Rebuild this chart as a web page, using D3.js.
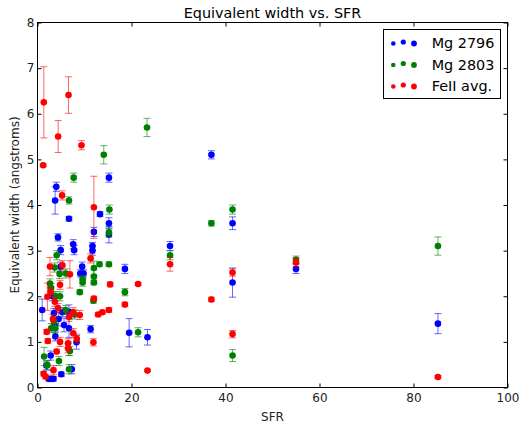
<!DOCTYPE html>
<html>
<head>
<meta charset="utf-8">
<script src="https://cdn.jsdelivr.net/npm/d3@7"></script>
<style>
  body { margin: 0; background: #fff; }
  svg { display: block; font-family: "DejaVu Sans", sans-serif; }
</style>
</head>
<body>
<svg id="chart" width="521" height="429"></svg>
<script>
// [SFR, equivalent width, error]
const mg2796 = [
  [85.2, 1.4, 0.22], [55.0, 2.6, 0.1], [41.5, 2.3, 0.32], [41.5, 3.6, 0.14],
  [37.0, 5.1, 0.09], [28.2, 3.1, 0.1], [23.4, 1.1, 0.17], [19.5, 1.2, 0.31],
  [18.6, 2.6, 0.1], [15.2, 4.6, 0.1], [15.2, 3.6, 0.12], [15.2, 3.35, 0.18],
  [13.3, 3.8, 0.05], [12.0, 3.41, 0.1], [11.7, 3.1, 0.08], [11.7, 3.0, 0.1],
  [11.3, 1.28, 0.08], [9.5, 2.65, 0.1], [9.1, 2.5, 0.08], [9.8, 2.5, 0.08],
  [8.3, 0.99, 0.15], [7.8, 3.01, 0.1], [7.6, 3.14, 0.1], [7.3, 0.4, 0.1],
  [6.7, 3.7, 0.05], [4.93, 3.01, 0.1], [4.36, 3.29, 0.08], [4.0, 4.4, 0.1],
  [3.75, 4.1, 0.3], [1.0, 1.7, 0.24], [3.15, 2.0, 0.1], [4.93, 2.65, 0.1],
  [5.3, 1.65, 0.1], [6.7, 1.66, 0.15], [3.5, 1.63, 0.1], [5.64, 1.37, 0.15],
  [3.65, 1.37, 0.1], [6.7, 1.3, 0.2], [4.5, 1.5, 0.15], [3.8, 1.12, 0.1],
  [2.8, 0.7, 0.1], [1.9, 0.48, 0.1], [2.4, 0.19, 0.05], [2.9, 0.19, 0.05],
  [3.4, 0.19, 0.05], [5.07, 0.29, 0.05]
];

const mg2803 = [
  [85.2, 3.1, 0.2], [55.0, 2.8, 0.08], [41.5, 3.9, 0.1], [41.5, 0.7, 0.13],
  [37.0, 3.6, 0.06], [28.2, 2.9, 0.1], [23.3, 5.7, 0.2], [21.4, 1.21, 0.1],
  [18.6, 2.09, 0.08], [15.3, 3.9, 0.1], [15.2, 3.4, 0.1], [15.2, 2.7, 0.05],
  [14.1, 5.1, 0.2], [13.2, 2.7, 0.05], [11.9, 1.9, 0.05], [12.0, 2.3, 0.05],
  [12.0, 2.62, 0.15], [12.0, 2.43, 0.15], [9.6, 2.37, 0.08], [9.6, 2.3, 0.08],
  [9.0, 2.09, 0.05], [7.7, 4.6, 0.1], [6.7, 4.1, 0.08], [4.08, 2.9, 0.1],
  [3.65, 2.63, 0.1], [2.66, 2.28, 0.1], [2.9, 2.18, 0.1], [3.9, 2.0, 0.1],
  [4.8, 2.0, 0.1], [6.06, 2.5, 0.1], [4.7, 2.49, 0.1], [3.8, 1.3, 0.1],
  [6.0, 1.7, 0.1], [7.9, 1.6, 0.1], [2.9, 1.3, 0.1], [6.6, 0.85, 0.15],
  [6.9, 0.8, 0.1], [6.7, 0.4, 0.1], [4.57, 0.58, 0.1], [1.4, 0.68, 0.2],
  [2.1, 0.49, 0.1], [3.5, 1.45, 0.1]
];

const feIIAvg = [
  [85.2, 0.23, 0.03], [55.0, 2.74, 0.1], [41.5, 2.52, 0.08], [41.5, 1.17, 0.08],
  [37.0, 1.93, 0.05], [28.2, 2.7, 0.15], [23.4, 0.37, 0.02], [21.4, 2.27, 0.03],
  [18.6, 1.82, 0.05], [15.45, 2.26, 0.05], [15.2, 1.7, 0.05], [13.8, 1.65, 0.04],
  [12.9, 1.6, 0.04], [12.0, 1.95, 0.05], [11.9, 0.99, 0.08], [12.0, 3.95, 0.68],
  [11.3, 2.83, 0.1], [9.36, 5.31, 0.1], [9.0, 1.59, 0.1], [8.36, 1.07, 0.1],
  [7.6, 1.19, 0.1], [6.6, 6.41, 0.4], [5.24, 4.21, 0.1], [4.4, 5.5, 0.35],
  [1.34, 6.25, 0.78], [1.2, 4.87, 0.03], [6.9, 2.48, 0.3], [2.66, 2.65, 0.2],
  [5.3, 2.68, 0.1], [2.8, 2.1, 0.1], [4.8, 2.25, 0.1], [2.1, 1.99, 0.3],
  [3.7, 1.88, 0.1], [4.36, 1.74, 0.1], [1.96, 1.22, 0.05], [3.3, 1.5, 0.1],
  [4.8, 1.0, 0.1], [2.2, 1.02, 0.05], [6.5, 0.97, 0.1], [6.5, 0.86, 0.1],
  [4.08, 0.79, 0.05], [1.3, 0.3, 0.05], [3.4, 0.38, 0.1], [1.7, 0.24, 0.05],
  [7.6, 1.65, 0.1], [6.7, 1.55, 0.1]
];

const seriesNames = ['Mg 2796', 'Mg 2803', 'FeII avg.'];
const xTicks = [0, 20, 40, 60, 80, 100];
const yTicks = [0, 1, 2, 3, 4, 5, 6, 7, 8];

(function() {
  const colors = ['#0000ff', '#008000', '#ff0000'];
  const series = [mg2796, mg2803, feIIAvg];

  const svg = d3.select('#chart');
  const plotLeft = 37.5, plotRight = 507.5, plotTop = 22.5, plotBottom = 387.5;

  const x = d3.scaleLinear().domain([0, 100]).range([plotLeft, plotRight]);
  const y = d3.scaleLinear().domain([0, 8]).range([plotBottom, plotTop]);

  // axes, ticks pointing inward on all four sides
  svg.append('g').attr('transform', `translate(0,${plotBottom})`)
    .call(d3.axisBottom(x).tickValues(xTicks).tickSize(-4).tickPadding(6).tickFormat(d3.format('d')));
  svg.append('g').attr('transform', `translate(0,${plotTop})`)
    .call(d3.axisTop(x).tickValues(xTicks).tickSize(-4).tickFormat(''));
  svg.append('g').attr('transform', `translate(${plotLeft},0)`)
    .call(d3.axisLeft(y).tickValues(yTicks).tickSize(-4).tickPadding(3).tickFormat(d3.format('d')));
  svg.append('g').attr('transform', `translate(${plotRight},0)`)
    .call(d3.axisRight(y).tickValues(yTicks).tickSize(-4).tickFormat(''));

  svg.selectAll('.domain').remove();
  svg.selectAll('.tick line').attr('stroke', '#000');
  svg.selectAll('.tick text').attr('font-size', 12).attr('fill', '#222').attr('font-family', '"DejaVu Sans", sans-serif');

  svg.append('rect')
    .attr('x', plotLeft).attr('y', plotTop)
    .attr('width', plotRight - plotLeft).attr('height', plotBottom - plotTop)
    .attr('fill', 'none').attr('stroke', '#000').attr('stroke-width', 1);

  // errorbars + markers, one series after the other
  series.forEach(function(data, i) {
    const g = svg.append('g').attr('class', 'series');
    const bars = g.selectAll('.err').data(data).enter().append('g')
      .attr('stroke', colors[i]).attr('stroke-opacity', 0.6).attr('stroke-width', 1);
    bars.append('line')
      .attr('x1', d => x(d[0])).attr('x2', d => x(d[0]))
      .attr('y1', d => y(d[1] - d[2])).attr('y2', d => y(d[1] + d[2]));
    bars.append('line')
      .attr('x1', d => x(d[0]) - 3.5).attr('x2', d => x(d[0]) + 3.5)
      .attr('y1', d => y(d[1] - d[2])).attr('y2', d => y(d[1] - d[2]));
    bars.append('line')
      .attr('x1', d => x(d[0]) - 3.5).attr('x2', d => x(d[0]) + 3.5)
      .attr('y1', d => y(d[1] + d[2])).attr('y2', d => y(d[1] + d[2]));
    g.selectAll('circle').data(data).enter().append('circle')
      .attr('cx', d => x(d[0])).attr('cy', d => y(d[1]))
      .attr('r', 3.3).attr('fill', colors[i]);
  });

  // titles
  svg.append('text').attr('x', (plotLeft + plotRight) / 2).attr('y', 18.3)
    .attr('text-anchor', 'middle').attr('font-size', 14.4).attr('fill', '#000')
    .text('Equivalent width vs. SFR');
  svg.append('text').attr('x', (plotLeft + plotRight) / 2).attr('y', 421)
    .attr('text-anchor', 'middle').attr('font-size', 12).attr('fill', '#222')
    .text('SFR');
  svg.append('text')
    .attr('transform', `translate(15,${(plotTop + plotBottom) / 2}) rotate(-90)`)
    .attr('dy', '0.35em').attr('text-anchor', 'middle').attr('font-size', 12).attr('fill', '#222')
    .text('Equivalent width (angstroms)');

  // legend
  const legend = svg.append('g').attr('class', 'legend');
  legend.append('rect')
    .attr('x', 383.5).attr('y', 29.5).attr('width', 117).attr('height', 69)
    .attr('fill', '#fff').attr('stroke', '#000').attr('stroke-width', 1);
  const rows = legend.selectAll('.row').data(seriesNames).enter().append('g')
    .attr('transform', (d, i) => `translate(0,${43 + i * 21.5})`);
  rows.selectAll('circle').data((d, i) => [[393.3, 0.5, 2.3, i], [403.3, -1, 2.6, i], [414, 0.5, 2.9, i]])
    .enter().append('circle')
    .attr('cx', d => d[0]).attr('cy', d => d[1]).attr('r', d => d[2])
    .attr('fill', d => colors[d[3]]);
  rows.append('text').attr('x', 431.7).attr('y', 5)
    .attr('font-size', 14.4).attr('fill', '#000')
    .text(d => d);
})();
</script>
</body>
</html>
